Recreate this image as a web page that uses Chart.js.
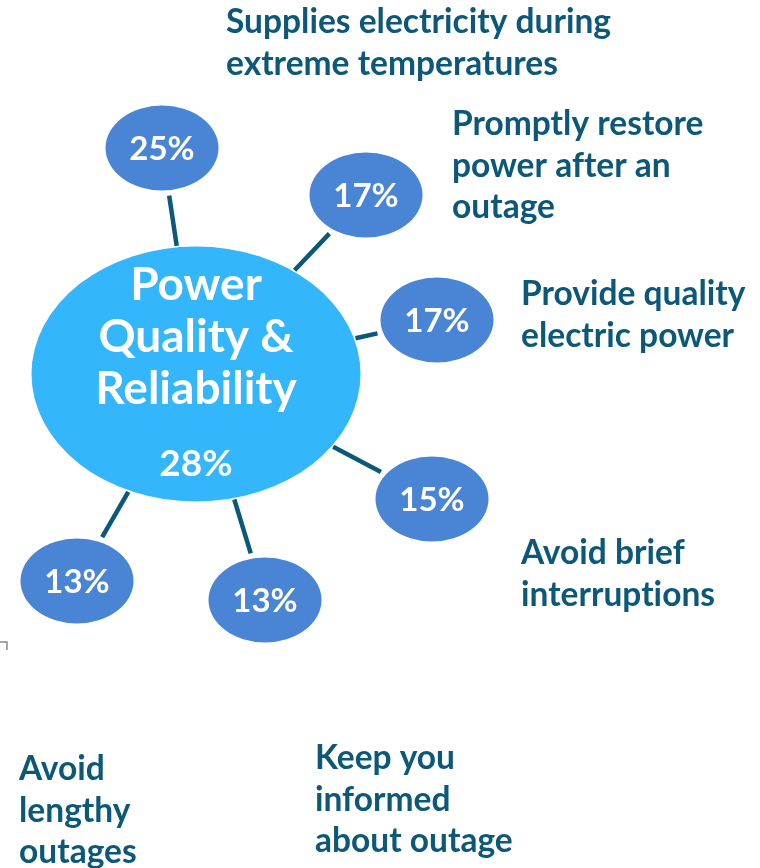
<!DOCTYPE html>
<html>
<head>
<meta charset="utf-8">
<script src="https://cdn.jsdelivr.net/npm/chart.js@4.4.1/dist/chart.umd.min.js"></script>
<style>
  html, body { margin: 0; padding: 0; background: #ffffff; }
  #wrap { position: relative; width: 760px; height: 868px; }
</style>
</head>
<body>
<div id="wrap"><canvas id="c" width="760" height="868"></canvas></div>
<script>
// ---------- DATA ----------
const hubLines = ["Power", "Quality &", "Reliability"];
const hubValue = 28;
const categories = [
  ["Supplies electricity during", "extreme temperatures"],
  ["Promptly restore", "power after an", "outage"],
  ["Provide quality", "electric power"],
  ["Avoid brief", "interruptions"],
  ["Avoid", "lengthy", "outages"],
  ["Keep you", "informed", "about outage"]
];
const values = [25, 17, 17, 15, 13, 13];

// ---------- LAYOUT (diagram placement, in canvas units) ----------
const hubPos = { x: 196, y: 374, rx: 165, ry: 128 };
const bubbleX = [162, 366, 437, 432, 77, 265];
const bubbleY = [148, 195, 320, 499, 581, 600];
const bubbleR = { rx: 57, ry: 43 };
const labelX = [226, 452, 521, 521, 19, 315];
const labelY = [33, 135, 305, 564, 780, 769];
const labelLineGap = 41.5;

const COL_HUB = "#33B6FB";
const COL_BUB = "#4A84D4";
const COL_DARK = "#0C5878";
const FONT = "Lato, 'Open Sans', sans-serif";

function ellipseImage(rx, ry, color) {
  const c = document.createElement("canvas");
  c.width = Math.round(rx * 2); c.height = Math.round(ry * 2);
  const g = c.getContext("2d");
  g.fillStyle = color;
  g.beginPath();
  g.ellipse(rx, ry, rx - 0.5, ry - 0.5, 0, 0, Math.PI * 2);
  g.fill();
  return c;
}

// edge point of ellipse (cx,cy,rx,ry) in direction (dx,dy)
function edge(cx, cy, rx, ry, dx, dy) {
  const t = 1 / Math.sqrt((dx / rx) ** 2 + (dy / ry) ** 2);
  return { x: cx + dx * t, y: cy + dy * t };
}

const spokeSets = values.map((v, i) => {
  const dx = bubbleX[i] - hubPos.x, dy = bubbleY[i] - hubPos.y;
  const len = Math.hypot(dx, dy);
  const ux = dx / len, uy = dy / len;
  const a = edge(hubPos.x, hubPos.y, hubPos.rx, hubPos.ry, dx, dy);
  const b = edge(bubbleX[i], bubbleY[i], bubbleR.rx, bubbleR.ry, -dx, -dy);
  return {
    type: "scatter",
    showLine: true,
    data: [{ x: a.x + ux * 1, y: a.y + uy * 1 }, { x: b.x - ux * 5, y: b.y - uy * 5 }],
    borderColor: COL_DARK,
    borderWidth: 4.5,
    pointRadius: 0,
    clip: false,
    order: 3
  };
});

const hubImg = ellipseImage(hubPos.rx, hubPos.ry, COL_HUB);
const bubImg = ellipseImage(bubbleR.rx, bubbleR.ry, COL_BUB);

const textPlugin = {
  id: "textPlugin",
  afterDatasetsDraw(chart) {
    const ctx = chart.ctx;
    const xs = chart.scales.x, ys = chart.scales.y;
    ctx.save();
    if ("letterSpacing" in ctx) ctx.letterSpacing = "0.01px";
    // hub text
    const hubMeta = chart.getDatasetMeta(spokeSets.length);
    const hp = hubMeta.data[0];
    ctx.fillStyle = "#ffffff";
    ctx.textAlign = "center";
    ctx.textBaseline = "alphabetic";
    ctx.font = "bold 46px " + FONT;
    const hubBase = [-74, -22, 30];
    hubLines.forEach((l, k) => ctx.fillText(l, hp.x, hp.y + hubBase[k]));
    ctx.font = "bold 37px " + FONT;
    ctx.fillText(hubValue + "%", hp.x, hp.y + 102);

    // bubble values
    const bMeta = chart.getDatasetMeta(spokeSets.length + 1);
    ctx.font = "bold 33px " + FONT;
    ctx.textBaseline = "middle";
    bMeta.data.forEach((p, i) => ctx.fillText(values[i] + "%", p.x, p.y + 1));

    // category labels
    ctx.fillStyle = COL_DARK;
    ctx.textAlign = "left";
    ctx.textBaseline = "alphabetic";
    ctx.font = "bold 33.5px " + FONT;
    categories.forEach((lines, i) => {
      lines.forEach((l, k) => {
        ctx.fillText(l, xs.getPixelForValue(labelX[i]), ys.getPixelForValue(labelY[i] + k * labelLineGap));
      });
    });

    // small corner mark
    ctx.strokeStyle = "#8a8a8a";
    ctx.lineWidth = 1.5;
    ctx.beginPath();
    ctx.moveTo(xs.getPixelForValue(0), ys.getPixelForValue(642));
    ctx.lineTo(xs.getPixelForValue(7), ys.getPixelForValue(642));
    ctx.lineTo(xs.getPixelForValue(7), ys.getPixelForValue(650));
    ctx.stroke();
    ctx.restore();
  }
};

new Chart(document.getElementById("c"), {
  type: "scatter",
  data: {
    datasets: [
      ...spokeSets,
      {
        data: [{ x: hubPos.x, y: hubPos.y }],
        pointStyle: hubImg,
        pointRadius: 10,
        clip: false,
        order: 2
      },
      {
        data: values.map((v, i) => ({ x: bubbleX[i], y: bubbleY[i] })),
        pointStyle: bubImg,
        pointRadius: 10,
        clip: false,
        order: 1
      }
    ]
  },
  options: {
    responsive: false,
    animation: false,
    events: [],
    layout: { padding: 0, autoPadding: false },
    plugins: { legend: { display: false }, tooltip: { enabled: false } },
    scales: {
      x: { type: "linear", min: 0, max: 760, display: false },
      y: { type: "linear", min: 0, max: 868, reverse: true, display: false }
    }
  },
  plugins: [textPlugin]
});
</script>
</body>
</html>
